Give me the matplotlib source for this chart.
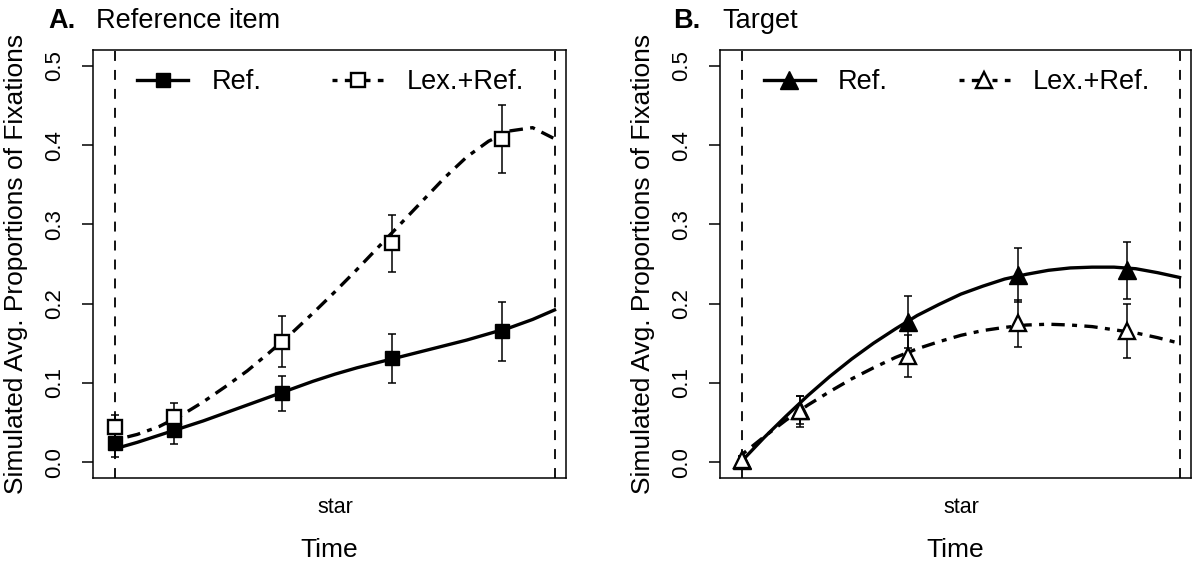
import matplotlib
matplotlib.use("Agg")
import matplotlib.pyplot as plt

plt.rcParams['font.family'] = ['Liberation Sans', 'DejaVu Sans']

# Time positions (0 = word onset, 1 = offset)
x_pts = [0.0, 0.133, 0.38, 0.631, 0.88]
x_curve = [0.0, 0.05, 0.1, 0.15, 0.2, 0.25, 0.3, 0.35, 0.4, 0.45, 0.5, 0.55,
           0.6, 0.65, 0.7, 0.75, 0.8, 0.85, 0.9, 0.95, 1.0]

# A. Reference item
ref_a = [0.024, 0.040, 0.087, 0.131, 0.165]
ref_a_err = [0.018, 0.017, 0.022, 0.031, 0.037]
lex_a = [0.044, 0.057, 0.152, 0.276, 0.408]
lex_a_err = [0.016, 0.017, 0.032, 0.036, 0.043]
ref_a_fit = [0.017, 0.025, 0.034, 0.043, 0.052, 0.062, 0.072, 0.082, 0.092, 0.102,
             0.111, 0.119, 0.126, 0.133, 0.140, 0.147, 0.154, 0.162, 0.170, 0.180, 0.192]
lex_a_fit = [0.028, 0.035, 0.045, 0.059, 0.076, 0.095, 0.115, 0.138, 0.162, 0.188,
             0.215, 0.243, 0.272, 0.301, 0.330, 0.359, 0.385, 0.405, 0.418, 0.422, 0.408]

# B. Target
ref_b = [0.003, 0.066, 0.177, 0.236, 0.242]
ref_b_err = [0.005, 0.018, 0.033, 0.034, 0.036]
lex_b = [0.003, 0.064, 0.134, 0.175, 0.166]
lex_b_err = [0.005, 0.020, 0.026, 0.030, 0.034]
ref_b_fit = [0.002, 0.031, 0.058, 0.084, 0.108, 0.130, 0.150, 0.168, 0.185, 0.199,
             0.212, 0.222, 0.231, 0.237, 0.242, 0.245, 0.246, 0.246, 0.244, 0.239, 0.233]
lex_b_fit = [0.010, 0.032, 0.053, 0.072, 0.089, 0.105, 0.119, 0.132, 0.143, 0.152,
             0.160, 0.166, 0.170, 0.173, 0.174, 0.173, 0.171, 0.167, 0.163, 0.157, 0.150]

y_ticks = [0.0, 0.1, 0.2, 0.3, 0.4, 0.5]
y_labels = ["0.0", "0.1", "0.2", "0.3", "0.4", "0.5"]
series_names = ["Ref.", "Lex.+Ref."]

dashdot = (1.5, 2.2, 4, 2.2)

fig = plt.figure(figsize=(11.92, 5.64), dpi=100)
ax_a = fig.add_axes([0.0780, 0.1525, 0.3968, 0.7589])
ax_b = fig.add_axes([0.6040, 0.1525, 0.3951, 0.7589])


def draw_panel(ax, ref, ref_err, lex, lex_err, ref_fit, lex_fit, marker, msize):
    # onset / offset markers
    for xv in [0.0, 1.0]:
        ax.axvline(xv, color='black', lw=1.3, dashes=(5.5, 5), zorder=1)

    # fitted curves
    ax.plot(x_curve, ref_fit, color='black', lw=2.4, zorder=2)
    ax.plot(x_curve, lex_fit, color='black', lw=2.4, dashes=dashdot, zorder=2)

    # error bars
    ax.errorbar(x_pts, ref, yerr=ref_err, fmt='none', ecolor='black',
                elinewidth=1.1, capsize=2.9, capthick=1.1, zorder=3)
    ax.errorbar(x_pts, lex, yerr=lex_err, fmt='none', ecolor='black',
                elinewidth=1.1, capsize=2.9, capthick=1.1, zorder=3)

    # points
    ax.plot(x_pts, ref, ls='none', marker=marker, ms=msize, color='black', zorder=4)
    ax.plot(x_pts, lex, ls='none', marker=marker, ms=msize - 0.5, mfc='white',
            mec='black', mew=1.7, zorder=5)

    # legend handles
    h1, = ax.plot([], [], color='black', lw=2.4, marker=marker, ms=msize)
    h2, = ax.plot([], [], color='black', lw=2.4, dashes=dashdot, marker=marker,
                  ms=msize - 0.5, mfc='white', mec='black', mew=1.7)
    ax.legend([h1, h2], series_names, loc='center left', bbox_to_anchor=(0.093, 0.925),
              ncol=2, frameon=False, fontsize=19.5, handlelength=1.9,
              handletextpad=0.85, columnspacing=2.6, borderpad=0, borderaxespad=0)

    ax.set_xlim(-0.051, 1.026)
    ax.set_ylim(-0.02, 0.52)
    ax.set_yticks(y_ticks)
    ax.set_yticklabels(y_labels, rotation=90, va='center', fontsize=16)
    ax.tick_params(axis='y', length=8, width=1.1, pad=12)
    ax.set_xticks([0.5])
    ax.set_xticklabels(["star"], fontsize=15.5)
    ax.tick_params(axis='x', length=0, pad=14)

    ax.set_ylabel("Simulated Avg. Proportions of Fixations", fontsize=19)
    ax.yaxis.set_label_coords(-0.137, 0.5)
    ax.set_xlabel("Time", fontsize=19)
    ax.xaxis.set_label_coords(0.5, -0.140)

    for sp in ax.spines.values():
        sp.set_linewidth(1.1)
        sp.set_color('black')


draw_panel(ax_a, ref_a, ref_a_err, lex_a, lex_a_err, ref_a_fit, lex_a_fit, 's', 10.5)
draw_panel(ax_b, ref_b, ref_b_err, lex_b, lex_b_err, ref_b_fit, lex_b_fit, '^', 12.5)

# panel titles
fig.text(48 / 1192, 0.950, "A.", fontsize=19.5, fontweight='bold', va='baseline')
fig.text(96 / 1192, 0.950, "Reference item", fontsize=19.5, va='baseline')
fig.text(673 / 1192, 0.950, "B.", fontsize=19.5, fontweight='bold', va='baseline')
fig.text(722 / 1192, 0.950, "Target", fontsize=19.5, va='baseline')

fig.savefig("out.png", dpi=100)
plt.close(fig)
